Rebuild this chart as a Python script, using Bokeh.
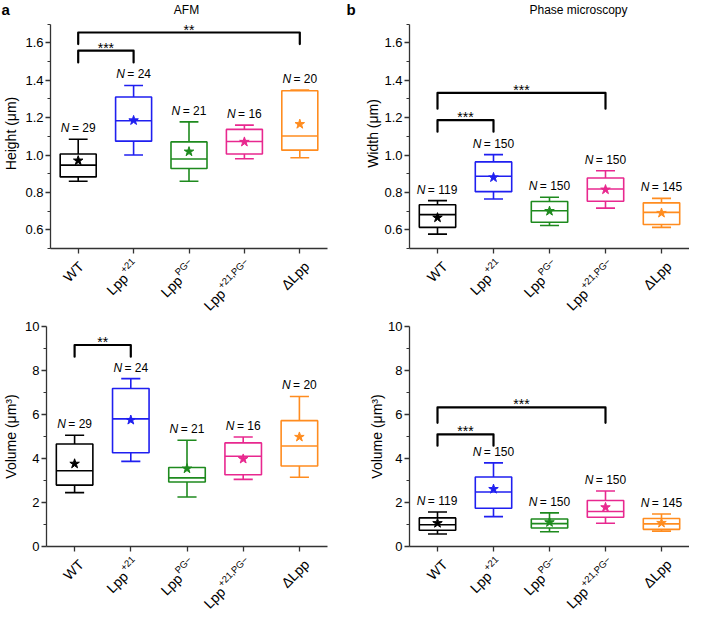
import math
from bokeh.plotting import figure
from bokeh.models import FixedTicker, Range1d, ColumnDataSource, PrintfTickFormatter
from bokeh.layouts import column, row
from bokeh.embed import file_html
from bokeh.resources import INLINE
from bokeh.core.properties import value

FONT = "Liberation Sans"

# ---------------- data ----------------
categories = ["WT", "Lpp+21", "LppPG-", "Lpp+21,PG-", "ΔLpp"]
cat_base = ["WT", "Lpp", "Lpp", "Lpp", "ΔLpp"]
cat_sup = ["", "+21", "PG−", "+21,PG−", ""]
colors = ["#000000", "#1f1ff0", "#1e8a1e", "#e8288f", "#ff8c1f"]

# a, top: AFM height (µm)
afm_h_whisker_lo = [0.86, 1.00, 0.86, 0.98, 0.985]
afm_h_q1 = [0.883, 1.074, 0.928, 1.005, 1.026]
afm_h_median = [0.946, 1.183, 0.979, 1.072, 1.102]
afm_h_q3 = [1.005, 1.31, 1.07, 1.137, 1.344]
afm_h_whisker_hi = [1.084, 1.372, 1.177, 1.16, 1.347]
afm_h_mean = [0.97, 1.185, 1.018, 1.07, 1.165]
afm_n = [29, 24, 21, 16, 20]
afm_h_sig_from = [0, 0]
afm_h_sig_to = [1, 4]
afm_h_sig_bar = [1.558, 1.655]
afm_h_sig_leg = [1.495, 1.593]
afm_h_sig_text = ["***", "**"]

# b, top: phase microscopy width (µm)
ph_w_whisker_lo = [0.577, 0.765, 0.623, 0.716, 0.613]
ph_w_q1 = [0.613, 0.804, 0.64, 0.753, 0.628]
ph_w_median = [0.681, 0.886, 0.702, 0.818, 0.693]
ph_w_q3 = [0.734, 0.963, 0.751, 0.877, 0.744]
ph_w_whisker_hi = [0.756, 1.002, 0.774, 0.916, 0.768]
ph_w_mean = [0.665, 0.88, 0.70, 0.815, 0.69]
ph_n = [119, 150, 150, 150, 145]
ph_w_sig_from = [0, 0]
ph_w_sig_to = [1, 3]
ph_w_sig_bar = [1.186, 1.332]
ph_w_sig_leg = [1.125, 1.248]
ph_w_sig_text = ["***", "***"]

# a, bottom: AFM volume (µm³)
afm_v_whisker_lo = [2.45, 3.87, 2.25, 3.05, 3.15]
afm_v_q1 = [2.79, 4.26, 2.93, 3.26, 3.66]
afm_v_median = [3.44, 5.80, 3.12, 4.10, 4.57]
afm_v_q3 = [4.66, 7.18, 3.59, 4.71, 5.72]
afm_v_whisker_hi = [5.06, 7.63, 4.83, 4.98, 6.82]
afm_v_mean = [3.76, 5.75, 3.54, 3.98, 4.98]
afm_v_sig_from = [0]
afm_v_sig_to = [1]
afm_v_sig_bar = [9.16]
afm_v_sig_leg = [8.63]
afm_v_sig_text = ["**"]

# b, bottom: phase microscopy volume (µm³)
ph_v_whisker_lo = [0.57, 1.36, 0.67, 1.06, 0.70]
ph_v_q1 = [0.74, 1.74, 0.84, 1.33, 0.78]
ph_v_median = [0.99, 2.48, 1.04, 1.59, 1.03]
ph_v_q3 = [1.30, 3.16, 1.25, 2.09, 1.27]
ph_v_whisker_hi = [1.57, 3.80, 1.53, 2.52, 1.48]
ph_v_mean = [1.06, 2.61, 1.10, 1.78, 1.07]
ph_v_sig_from = [0, 0]
ph_v_sig_to = [1, 3]
ph_v_sig_bar = [5.10, 6.32]
ph_v_sig_leg = [4.58, 5.62]
ph_v_sig_text = ["***", "***"]

height_ticks = [0.6, 0.8, 1.0, 1.2, 1.4, 1.6]
height_minor = [0.5, 0.7, 0.9, 1.1, 1.3, 1.5, 1.7]
height_axis = (0.5, 1.7)
volume_ticks = [0, 2, 4, 6, 8, 10]
volume_minor = [1, 3, 5, 7, 9]
volume_axis = (0, 10)

# ---------------- helpers ----------------
CW = {"+": 0.584, ",": 0.278, "P": 0.667, "G": 0.778, "−": 0.584, "=": 0.584, " ": 0.278}


def text_w(s, fs):
    return sum(CW.get(ch, 0.556) for ch in s) * fs


C45 = math.sqrt(0.5)
NCAT = len(categories)
XS = [i + 1 for i in range(NCAT)]


def strip(width, height):
    """A frame-only figure in pixel units (x right, y up)."""
    p = figure(width=width, height=height, x_range=Range1d(0, width),
               y_range=Range1d(0, height), output_backend="svg", title=None,
               toolbar_location=None, x_axis_location=None, y_axis_location=None,
               min_border_left=0, min_border_right=0, min_border_top=0,
               min_border_bottom=0)
    p.outline_line_color = None
    p.background_fill_color = "white"
    p.border_fill_color = "white"
    p.grid.visible = False
    return p


def cat_px(x, width, mbl, mbr):
    sx = (width - mbl - mbr) / float(NCAT)
    return mbl + (x - 0.5) * sx


def title_strip(width, height, mbl, mbr, letter, title, title_dx):
    p = strip(width, height)
    p.text(x=[1], y=[height / 2.0], text=[letter], text_align="left",
           text_baseline="middle", text_font=value(FONT), text_font_style="bold",
           text_font_size="15px", text_color="black")
    p.text(x=[cat_px((NCAT + 1) / 2.0, width, mbl, mbr) + title_dx], y=[height / 2.0],
           text=[title], text_align="center", text_baseline="middle",
           text_font=value(FONT), text_font_size="12px", text_color="black")
    return p


def label_strip(width, height, mbl, mbr, gap):
    """Rotated category labels; gap = distance from x axis line to top of this strip."""
    p = strip(width, height)
    bfs, sfs = 14, 9.5
    bx_l, by_l, bt = [], [], []
    sx_l, sy_l, st = [], [], []
    for x, b, s in zip(XS, cat_base, cat_sup):
        tx = cat_px(x, width, mbl, mbr)
        ax, ay = 4.0, 12.0                       # screen offset from tick (y down)
        sh = 0.35 * bfs
        bx, by = ax + C45 * sh, ay + C45 * sh    # baseline point
        if s:
            r = 0.42 * bfs
            px, py = bx - C45 * r, by - C45 * r
            sx_l.append(tx + px)
            sy_l.append(height - (py - gap))
            st.append(s)
            w = text_w(s, sfs) + 1.0
            bx, by = bx - C45 * w, by + C45 * w
        bx_l.append(tx + bx)
        by_l.append(height - (by - gap))
        bt.append(b)
    p.text(x=bx_l, y=by_l, text=bt, angle=math.pi / 4, text_align="right",
           text_baseline="alphabetic", text_font=value(FONT),
           text_font_size="%gpx" % bfs, text_color="black")
    p.text(x=sx_l, y=sy_l, text=st, angle=math.pi / 4, text_align="right",
           text_baseline="alphabetic", text_font=value(FONT),
           text_font_size="%gpx" % sfs, text_color="black")
    return p


def make_panel(width, height, mbl, mbr, mbt, mbb, y0, y1, axis_bounds, yticks, yminor,
               fmt, ylabel, wlo, q1, med, q3, whi, mean, ns, sfrom, sto, sbar, sleg,
               stext, ylab_standoff=3):
    fh = height - mbt - mbb
    sy = fh / (y1 - y0)
    p = figure(width=width, height=height, x_range=Range1d(0.5, NCAT + 0.5),
               y_range=Range1d(y0, y1), output_backend="svg", toolbar_location=None,
               title=None, min_border_left=mbl, min_border_right=mbr,
               min_border_top=mbt, min_border_bottom=mbb)
    p.outline_line_color = None
    p.xgrid.visible = False
    p.ygrid.visible = False
    p.background_fill_color = "white"
    p.border_fill_color = "white"

    xa = p.xaxis[0]
    xa.ticker = FixedTicker(ticks=XS, minor_ticks=[])
    xa.major_label_overrides = {x: "" for x in XS}
    xa.major_label_standoff = 0
    xa.major_tick_in = 0
    xa.major_tick_out = 5
    xa.minor_tick_out = 0
    xa.minor_tick_in = 0
    xa.axis_line_width = 1.3
    xa.major_tick_line_width = 1.3
    xa.axis_line_color = "#333333"
    xa.major_tick_line_color = "#333333"

    ya = p.yaxis[0]
    ya.bounds = axis_bounds
    ya.ticker = FixedTicker(ticks=yticks, minor_ticks=yminor)
    ya.formatter = PrintfTickFormatter(format=fmt)
    ya.axis_label = ylabel
    ya.axis_label_text_font = FONT
    ya.axis_label_text_font_style = "normal"
    ya.axis_label_text_font_size = "14px"
    ya.axis_label_text_color = "black"
    ya.axis_label_standoff = ylab_standoff
    ya.major_label_text_font = FONT
    ya.major_label_text_font_size = "13px"
    ya.major_label_text_color = "black"
    ya.major_label_standoff = 2
    ya.major_tick_in = 0
    ya.major_tick_out = 5
    ya.minor_tick_in = 0
    ya.minor_tick_out = 3
    ya.axis_line_width = 1.3
    ya.major_tick_line_width = 1.3
    ya.minor_tick_line_width = 1.0
    ya.axis_line_color = "#333333"
    ya.major_tick_line_color = "#333333"
    ya.minor_tick_line_color = "#333333"

    hw, cw = 0.325, 0.17
    src = ColumnDataSource(dict(
        x=XS, wlo=wlo, q1=q1, med=med, q3=q3, whi=whi, mean=mean, color=colors,
        left=[x - hw for x in XS], right=[x + hw for x in XS],
        cl=[x - cw for x in XS], cr=[x + cw for x in XS]))
    lw = 1.6
    p.quad(left="left", right="right", bottom="q1", top="q3", source=src,
           fill_color=None, line_color="color", line_width=lw)
    p.segment(x0="left", x1="right", y0="med", y1="med", source=src,
              line_color="color", line_width=lw)
    p.segment(x0="x", x1="x", y0="q3", y1="whi", source=src,
              line_color="color", line_width=lw)
    p.segment(x0="x", x1="x", y0="wlo", y1="q1", source=src,
              line_color="color", line_width=lw)
    p.segment(x0="cl", x1="cr", y0="whi", y1="whi", source=src,
              line_color="color", line_width=lw)
    p.segment(x0="cl", x1="cr", y0="wlo", y1="wlo", source=src,
              line_color="color", line_width=lw)
    p.scatter(x="x", y="mean", source=src, marker="star", size=10,
              fill_color="color", line_color="color")

    # N labels: italic "N" followed by "= n"
    nfs = 12
    ntext = ["= %d" % n for n in ns]
    wN = 0.722 * nfs
    gap = 0.2 * nfs
    wtot = [wN + gap + text_w(t, nfs) for t in ntext]
    nsrc = ColumnDataSource(dict(
        x=XS, y=[w + 11.0 / sy for w in whi], n=["N"] * NCAT, t=ntext,
        no=[-wt / 2 for wt in wtot], to=[-wt / 2 + wN + gap for wt in wtot]))
    p.text(x="x", y="y", text="n", x_offset="no", source=nsrc, text_align="left",
           text_baseline="middle", text_font=value(FONT), text_font_style="italic",
           text_font_size="%dpx" % nfs, text_color="black")
    p.text(x="x", y="y", text="t", x_offset="to", source=nsrc, text_align="left",
           text_baseline="middle", text_font=value(FONT),
           text_font_size="%dpx" % nfs, text_color="black")

    # significance brackets
    for a, b, bar, leg, txt in zip(sfrom, sto, sbar, sleg, stext):
        xa0, xb0 = XS[a], XS[b]
        p.line(x=[xa0, xa0, xb0, xb0], y=[leg, bar, bar, leg], line_width=2.2,
               line_color="black", line_join="round", line_cap="round")
        p.text(x=[(xa0 + xb0) / 2.0], y=[bar + 3.0 / sy], text=[txt],
               text_align="center", text_baseline="alphabetic",
               text_font=value(FONT), text_font_size="14px", text_color="black")
    return p


# ---------------- layout ----------------
LW, RW = 345, 344
L_MBL, L_MBR = 45, 18
R_MBL, R_MBR = 64, 0
MBB = 8

t1 = title_strip(LW, 18, L_MBL, L_MBR, "a", "AFM", 0)
t2 = title_strip(RW, 18, R_MBL, R_MBR, "b", "Phase microscopy", 29)

p1 = make_panel(LW, 238, L_MBL, L_MBR, 0, MBB, 0.5, 1.73, height_axis, height_ticks,
                height_minor, "%.1f", "Height (μm)", afm_h_whisker_lo, afm_h_q1,
                afm_h_median, afm_h_q3, afm_h_whisker_hi, afm_h_mean, afm_n,
                afm_h_sig_from, afm_h_sig_to, afm_h_sig_bar, afm_h_sig_leg,
                afm_h_sig_text)
p2 = make_panel(RW, 238, R_MBL, R_MBR, 0, MBB, 0.5, 1.73, height_axis, height_ticks,
                height_minor, "%.1f", "Width (μm)", ph_w_whisker_lo, ph_w_q1,
                ph_w_median, ph_w_q3, ph_w_whisker_hi, ph_w_mean, ph_n,
                ph_w_sig_from, ph_w_sig_to, ph_w_sig_bar, ph_w_sig_leg,
                ph_w_sig_text, ylab_standoff=0)
l1 = label_strip(LW, 60, L_MBL, L_MBR, MBB)
l2 = label_strip(RW, 60, R_MBL, R_MBR, MBB)

p3 = make_panel(LW, 238, L_MBL, L_MBR, 10, MBB, 0, 10, volume_axis, volume_ticks,
                volume_minor, "%d", "Volume (μm³)", afm_v_whisker_lo, afm_v_q1,
                afm_v_median, afm_v_q3, afm_v_whisker_hi, afm_v_mean, afm_n,
                afm_v_sig_from, afm_v_sig_to, afm_v_sig_bar, afm_v_sig_leg,
                afm_v_sig_text)
p4 = make_panel(RW, 238, R_MBL, R_MBR, 10, MBB, 0, 10, volume_axis, volume_ticks,
                volume_minor, "%d", "Volume (μm³)", ph_v_whisker_lo, ph_v_q1,
                ph_v_median, ph_v_q3, ph_v_whisker_hi, ph_v_mean, ph_n,
                ph_v_sig_from, ph_v_sig_to, ph_v_sig_bar, ph_v_sig_leg,
                ph_v_sig_text, ylab_standoff=0)
l3 = label_strip(LW, 59, L_MBL, L_MBR, MBB)
l4 = label_strip(RW, 59, R_MBL, R_MBR, MBB)

layout = column(row(t1, t2), row(p1, p2), row(l1, l2), row(p3, p4), row(l3, l4))
open("out.html", "w").write(file_html(layout, INLINE))
